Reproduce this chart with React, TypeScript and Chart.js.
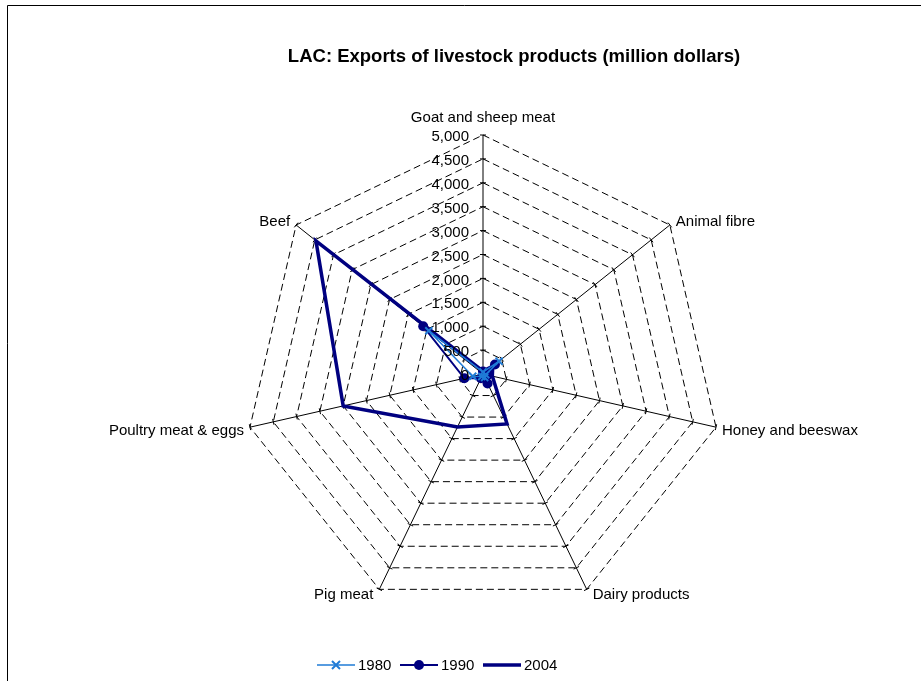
import React, { useEffect, useRef } from "react";
import { Chart, registerables } from "chart.js";

Chart.register(...registerables);

// Product groups, clockwise from the top axis
const categories = [
  "Goat and sheep meat",
  "Animal fibre",
  "Honey and beeswax",
  "Dairy products",
  "Pig meat",
  "Poultry meat & eggs",
  "Beef",
];

// Export values in million dollars
const exports1980 = [40, 430, 60, 80, 60, 220, 1450];
const exports1990 = [50, 320, 100, 220, 100, 400, 1600];
const exports2004 = [60, 260, 200, 1160, 1230, 3000, 4470];

const seriesNames = ["1980", "1990", "2004"];
const tickValues = [0, 500, 1000, 1500, 2000, 2500, 3000, 3500, 4000, 4500, 5000];

const chartTitle = "LAC: Exports of livestock products (million dollars)";

const LIGHT_BLUE = "#1F7BD6";
const NAVY = "#000080";
const FONT = "Arial, 'Liberation Sans', sans-serif";

const fmt = (v: number) => v.toLocaleString("en-US");

const decorations = {
  id: "decorations",
  beforeDatasetsDraw(chart: any) {
    const ctx = chart.ctx as CanvasRenderingContext2D;
    const scale = chart.scales.r;
    // small cross ticks on every axis at each grid value
    ctx.save();
    ctx.strokeStyle = "#000";
    ctx.lineWidth = 1;
    categories.forEach((_, i) => {
      const a = scale.getIndexAngle(i) - Math.PI / 2;
      const px = -Math.sin(a);
      const py = Math.cos(a);
      tickValues.forEach((v) => {
        if (v === 0) return;
        const p = scale.getPointPositionForValue(i, v);
        ctx.beginPath();
        ctx.moveTo(p.x - px * 3, p.y - py * 3);
        ctx.lineTo(p.x + px * 3, p.y + py * 3);
        ctx.stroke();
      });
    });
    ctx.restore();
  },
  afterDraw(chart: any) {
    const ctx = chart.ctx as CanvasRenderingContext2D;
    const scale = chart.scales.r;
    const cx = scale.xCenter;
    ctx.save();

    // frame
    ctx.strokeStyle = "#000";
    ctx.lineWidth = 1;
    ctx.beginPath();
    ctx.moveTo(7.5, 681);
    ctx.lineTo(7.5, 5.5);
    ctx.lineTo(921, 5.5);
    ctx.stroke();

    // title
    ctx.fillStyle = "#000";
    ctx.font = `bold 18.5px ${FONT}`;
    ctx.textAlign = "center";
    ctx.textBaseline = "middle";
    ctx.fillText(chartTitle, 514, 57);

    // axis labels
    ctx.font = `15px ${FONT}`;
    categories.forEach((label, i) => {
      const v = scale.getPointPosition(i, scale.drawingArea);
      const up = Math.cos(scale.getIndexAngle(i));
      if (Math.abs(v.x - cx) < 2) {
        ctx.textAlign = "center";
        ctx.textBaseline = "alphabetic";
        ctx.fillText(label, v.x, v.y - 13);
      } else {
        const dy = up > 0.3 ? -3 : up > -0.5 ? 4 : 6;
        ctx.textAlign = v.x > cx ? "left" : "right";
        ctx.textBaseline = "middle";
        ctx.fillText(label, v.x + (v.x > cx ? 6 : -6), v.y + dy);
      }
    });

    // value labels beside the top axis
    ctx.textAlign = "right";
    ctx.textBaseline = "middle";
    tickValues.forEach((val) => {
      const p = scale.getPointPositionForValue(0, val);
      ctx.fillText(fmt(val), p.x - 14, p.y + 2);
    });

    // legend
    const ly = 665;
    const items = [
      { x: 317, color: LIGHT_BLUE, width: 1.5, marker: "x" },
      { x: 400, color: NAVY, width: 2, marker: "dot" },
      { x: 483, color: NAVY, width: 3.5, marker: "none" },
    ];
    items.forEach((it, k) => {
      ctx.strokeStyle = it.color;
      ctx.lineWidth = it.width;
      ctx.beginPath();
      ctx.moveTo(it.x, ly);
      ctx.lineTo(it.x + 38, ly);
      ctx.stroke();
      const mx = it.x + 19;
      if (it.marker === "x") {
        ctx.lineWidth = 2;
        ctx.beginPath();
        ctx.moveTo(mx - 4, ly - 4);
        ctx.lineTo(mx + 4, ly + 4);
        ctx.moveTo(mx + 4, ly - 4);
        ctx.lineTo(mx - 4, ly + 4);
        ctx.stroke();
      } else if (it.marker === "dot") {
        ctx.fillStyle = it.color;
        ctx.beginPath();
        ctx.arc(mx, ly, 5, 0, Math.PI * 2);
        ctx.fill();
      }
      ctx.fillStyle = "#000";
      ctx.textAlign = "left";
      ctx.textBaseline = "middle";
      ctx.fillText(seriesNames[k], it.x + 41, ly + 1);
    });

    ctx.restore();
  },
};

export default function App() {
  const canvasRef = useRef<HTMLCanvasElement | null>(null);

  useEffect(() => {
    if (!canvasRef.current) return;
    const chart = new Chart(canvasRef.current, {
      type: "radar",
      data: {
        labels: categories,
        datasets: [
          {
            label: seriesNames[0],
            data: exports1980,
            borderColor: LIGHT_BLUE,
            backgroundColor: LIGHT_BLUE,
            borderWidth: 1.5,
            fill: false,
            pointStyle: "crossRot",
            pointRadius: 5,
            pointBorderWidth: 2,
            pointBorderColor: LIGHT_BLUE,
          },
          {
            label: seriesNames[1],
            data: exports1990,
            borderColor: NAVY,
            backgroundColor: NAVY,
            borderWidth: 2,
            fill: false,
            pointStyle: "circle",
            pointRadius: 5,
            pointBorderWidth: 0,
            pointBackgroundColor: NAVY,
          },
          {
            label: seriesNames[2],
            data: exports2004,
            borderColor: NAVY,
            backgroundColor: NAVY,
            borderWidth: 3.5,
            fill: false,
            pointRadius: 0,
          },
        ],
      },
      options: {
        responsive: false,
        animation: false,
        layout: { padding: { left: 244, right: 199, top: 135, bottom: 68 } },
        elements: { line: { tension: 0 } },
        plugins: {
          legend: { display: false },
          tooltip: { enabled: false },
          title: { display: false },
        },
        scales: {
          r: {
            min: 0,
            max: 5000,
            ticks: { stepSize: 500, display: false },
            pointLabels: { display: false },
            grid: { color: "#000", lineWidth: 1, circular: false },
            border: { dash: [7, 4] },
            angleLines: { color: "#000", lineWidth: 1 },
          },
        },
      },
      plugins: [decorations],
    } as any);
    return () => chart.destroy();
  }, []);

  return (
    <div style={{ position: "fixed", left: 0, top: 0, width: 921, height: 681, background: "#fff" }}>
      <canvas ref={canvasRef} width={921} height={681} />
    </div>
  );
}
